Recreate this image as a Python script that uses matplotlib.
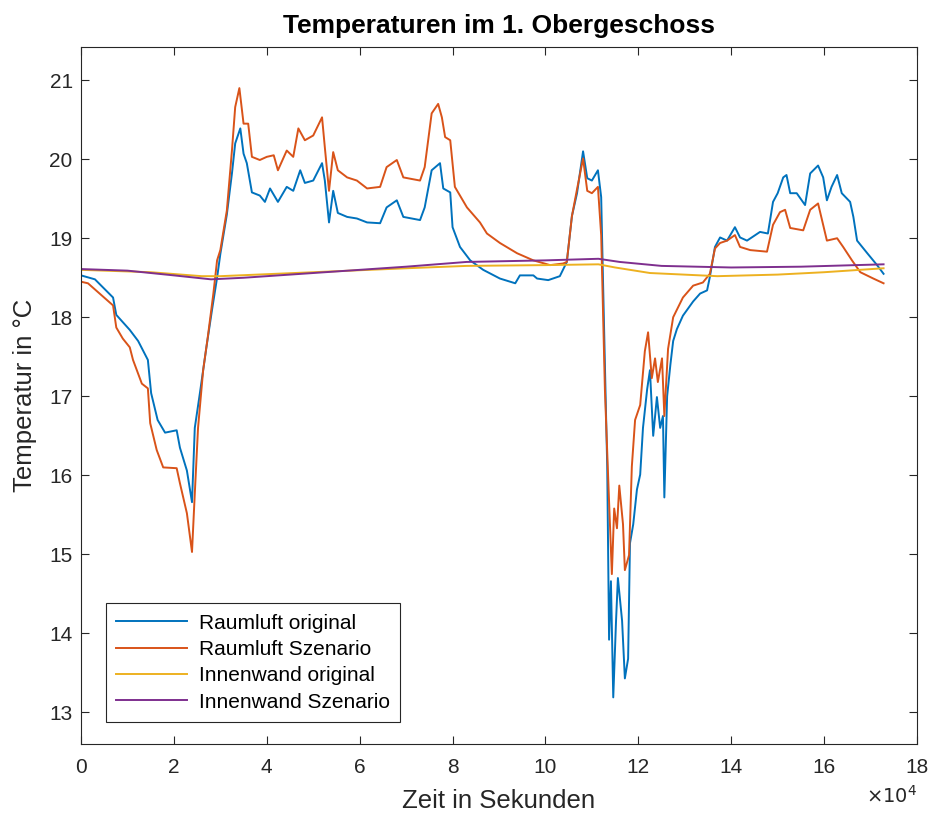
import matplotlib
matplotlib.use("Agg")
import matplotlib.pyplot as plt
from matplotlib.ticker import FuncFormatter

plt.rcParams['font.family'] = ['Liberation Sans', 'DejaVu Sans']

# time in seconds
t_blue = [0, 3000, 6900, 7600, 10500, 12300, 14400, 15100, 16500, 18100, 20600, 21300, 22800, 23900,
          24500, 25600, 27000, 28200, 29300, 30000, 31400, 32500, 33200, 34300, 35000, 35700, 36800,
          38500, 39600, 40700, 42400, 44300, 45700, 47200, 48200, 50000, 51900, 52500, 53400, 54300,
          55300, 57300, 59400, 61600, 64400, 65800, 68000, 69400, 73000, 74000, 75500, 77300, 78000,
          79500, 80000, 81600, 83800, 86600, 90200, 93500, 94500, 97400, 98200, 100600, 103100,
          104600, 105700, 106800, 108100, 109000, 110000, 111300, 112000, 112400, 113300, 113700,
          114100, 114600, 115200, 115600, 116500, 117100, 117800, 118200, 118900, 119700, 120400,
          121000, 121900, 122500, 123200, 124000, 124700, 125300, 125600, 126200, 126900, 127500,
          128300, 129600, 131800, 133300, 134800, 135400, 136500, 137600, 139100, 140800, 141900,
          143400, 146200, 147900, 149000, 150000, 151200, 151900, 152700, 154100, 155900, 157000,
          158700, 159800, 160600, 161600, 162800, 163800, 165600, 166300, 167100, 169300, 171400,
          172800]
raumluft_original = [18.53, 18.48, 18.25, 18.03, 17.84, 17.70, 17.46, 17.04, 16.70, 16.54, 16.57,
                     16.35, 16.06, 15.66, 16.60, 17.04, 17.62, 18.09, 18.50, 18.80, 19.30, 19.82,
                     20.20, 20.39, 20.07, 19.95, 19.58, 19.54, 19.46, 19.63, 19.46, 19.65, 19.60,
                     19.86, 19.70, 19.73, 19.95, 19.73, 19.20, 19.60, 19.32, 19.27, 19.25, 19.20,
                     19.19, 19.39, 19.48, 19.27, 19.23, 19.39, 19.86, 19.95, 19.63, 19.58, 19.14,
                     18.89, 18.72, 18.60, 18.49, 18.43, 18.53, 18.53, 18.49, 18.47, 18.52, 18.70,
                     19.28, 19.57, 20.10, 19.76, 19.73, 19.86, 19.52, 18.45, 16.11, 13.92, 14.66,
                     13.19, 14.16, 14.70, 14.16, 13.43, 13.68, 15.14, 15.38, 15.82, 16.01, 16.60,
                     17.09, 17.33, 16.50, 16.99, 16.60, 16.75, 15.72, 17.00, 17.40, 17.70, 17.85,
                     18.02, 18.20, 18.30, 18.34, 18.51, 18.89, 19.01, 18.97, 19.14, 19.01, 18.97,
                     19.08, 19.06, 19.46, 19.57, 19.77, 19.80, 19.57, 19.57, 19.42, 19.82, 19.92,
                     19.77, 19.48, 19.65, 19.80, 19.57, 19.46, 19.27, 18.97, 18.81, 18.66, 18.55]

t_orange = [0, 1500, 6900, 7600, 9000, 10500, 11200, 13100, 14400, 14900, 16300, 17700, 20600,
            21300, 22800, 23900, 24500, 25200, 26300, 27300, 28500, 29300, 30000, 31400, 32500,
            33200, 34100, 35000, 36000, 36800, 38500, 40000, 41500, 42400, 44300, 45700, 46800,
            48200, 50000, 51900, 52500, 53400, 54300, 55300, 57300, 59400, 61600, 64400, 65800,
            68000, 69400, 73000, 74000, 75500, 76900, 77700, 78400, 79500, 80500, 83100, 85900,
            87400, 90200, 93900, 97400, 101000, 103800, 104600, 105700, 106800, 108100, 109000,
            110000, 111300, 112000, 112800, 113600, 114300, 114800, 115400, 115900, 116700,
            117100, 118000, 118600, 119300, 120400, 121400, 122100, 122900, 123600, 124200,
            125100, 125600, 126400, 127500, 129600, 131800, 133900, 135400, 136500, 137600,
            139100, 140800, 141900, 144100, 147700, 149000, 150500, 151600, 152700, 155500,
            157000, 158700, 160600, 162800, 164100, 166000, 167800, 170600, 172800]
raumluft_szenario = [18.45, 18.43, 18.15, 17.87, 17.73, 17.62, 17.46, 17.16, 17.10, 16.66, 16.32,
                     16.10, 16.09, 15.90, 15.52, 15.03, 15.77, 16.60, 17.33, 17.75, 18.30, 18.72,
                     18.85, 19.35, 20.11, 20.66, 20.90, 20.45, 20.45, 20.03, 19.99, 20.03, 20.05,
                     19.86, 20.11, 20.03, 20.39, 20.24, 20.30, 20.53, 20.15, 19.60, 20.09, 19.86,
                     19.77, 19.73, 19.63, 19.65, 19.90, 19.99, 19.77, 19.73, 19.90, 20.58, 20.70,
                     20.53, 20.28, 20.24, 19.65, 19.39, 19.20, 19.06, 18.94, 18.81, 18.72, 18.66,
                     18.68, 18.70, 19.28, 19.62, 20.01, 19.60, 19.57, 19.65, 19.04, 17.09, 15.82,
                     14.75, 15.58, 15.33, 15.87, 15.38, 14.80, 14.99, 16.11, 16.70, 16.89, 17.57,
                     17.81, 17.23, 17.48, 17.18, 17.48, 16.75, 17.60, 18.00, 18.25, 18.40, 18.44,
                     18.55, 18.87, 18.94, 18.97, 19.04, 18.89, 18.85, 18.83, 19.17, 19.33, 19.36,
                     19.13, 19.10, 19.36, 19.44, 18.97, 19.00, 18.89, 18.72, 18.57, 18.49, 18.43]

t_wand_orig = [0, 15000, 26000, 30000, 50000, 70000, 83000, 100000, 111400, 115000, 122500,
               137000, 150000, 160000, 172800]
innenwand_original = [18.60, 18.57, 18.52, 18.52, 18.57, 18.62, 18.65, 18.66, 18.67, 18.63, 18.56,
                      18.52, 18.54, 18.57, 18.62]

t_wand_sz = [0, 10000, 20000, 28000, 35000, 50000, 70000, 83000, 100000, 111400, 116000, 125000,
             140000, 155000, 172800]
innenwand_szenario = [18.61, 18.59, 18.53, 18.48, 18.50, 18.56, 18.64, 18.70, 18.72, 18.74, 18.70,
                      18.65, 18.63, 18.64, 18.67]

x_ticks = [0, 20000, 40000, 60000, 80000, 100000, 120000, 140000, 160000, 180000]
y_ticks = [13, 14, 15, 16, 17, 18, 19, 20, 21]

axis_gray = '#262626'

fig = plt.figure(figsize=(9.37, 8.13), dpi=100)
ax = fig.add_axes([81 / 937, 1 - 744 / 813, (917 - 81) / 937, (744 - 47) / 813])

lw = 1.4
ax.plot(t_blue, raumluft_original, color='#0072BD', lw=lw, label='Raumluft original')
ax.plot(t_orange, raumluft_szenario, color='#D95319', lw=lw, label='Raumluft Szenario')
ax.plot(t_wand_orig, innenwand_original, color='#EDB120', lw=lw, label='Innenwand original')
ax.plot(t_wand_sz, innenwand_szenario, color='#7E2F8E', lw=lw, label='Innenwand Szenario')

ax.set_xlim(0, 180000)
ax.set_ylim(12.6, 21.42)
ax.set_xticks(x_ticks)
ax.set_yticks(y_ticks)
ax.xaxis.set_major_formatter(FuncFormatter(lambda v, p: f"{v / 1e4:g}"))

for s in ax.spines.values():
    s.set_color(axis_gray)
    s.set_linewidth(0.8)
ax.tick_params(direction='in', length=6, width=0.8, colors=axis_gray, labelsize=15,
               top=True, right=True)
ax.tick_params(axis='x', pad=10)
ax.tick_params(axis='y', pad=6)

ax.set_title('Temperaturen im 1. Obergeschoss', fontsize=19, fontweight='bold', pad=10)
ax.set_xlabel('Zeit in Sekunden', fontsize=18.5, color=axis_gray, labelpad=9)
ax.set_ylabel('Temperatur in °C', fontsize=18.5, color=axis_gray, labelpad=9)

ax.text(1.0, -0.075, r'$\times10^{4}$', transform=ax.transAxes, ha='right', va='center',
        fontsize=14, color=axis_gray)

leg = ax.legend(loc='lower left', bbox_to_anchor=(0.030, 0.0316), borderaxespad=0,
                fontsize=15, fancybox=False, framealpha=1, edgecolor=axis_gray,
                handlelength=3.4, handletextpad=0.55, labelspacing=0.35, borderpad=0.5)
leg.get_frame().set_linewidth(0.8)

fig.savefig('out.png', dpi=100)
